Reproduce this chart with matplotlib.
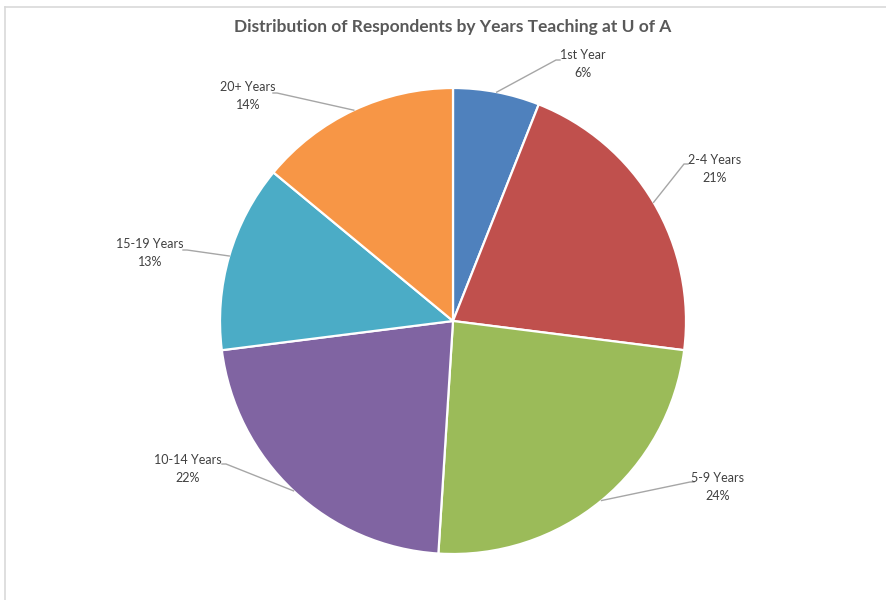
import matplotlib.pyplot as plt
import numpy as np

# survey breakdown, years teaching
labels = ['1st Year', '2-4 Years', '5-9 Years', '10-14 Years', '15-19 Years', '20+ Years']
pcts = [6, 21, 24, 22, 13, 14]
colors = ['#4F81BD', '#C0504D', '#9BBB59', '#8064A2', '#4BACC6', '#F79646']

W, H = 887, 600
cx, cy, R = 453, H - 321, 233

# label text centers and leader elbows (pixels from top-left)
text_pos = [(583, 64), (715, 169), (718, 487), (188, 469), (150, 253), (248, 96)]
elbows = [(556, 60), (684, 164), (690, 482), (226, 464), (187, 250), (277, 93)]

plt.rcParams['font.family'] = ['Lato', 'DejaVu Sans']

fig = plt.figure(figsize=(W / 100, H / 100), dpi=100)
ax = fig.add_axes([0, 0, 1, 1])

wedges, _ = ax.pie(pcts, colors=colors, startangle=90, counterclock=False,
                   radius=R, center=(cx, cy),
                   wedgeprops=dict(edgecolor='white', linewidth=1.6))
ax.set_xlim(0, W)
ax.set_ylim(0, H)
ax.set_aspect('equal')
ax.axis('off')

# chart frame (partly cut off at right and bottom)
ax.plot([5, 5], [0, H - 7], color='#D9D9D9', lw=1.2)
ax.plot([5, W], [H - 7, H - 7], color='#D9D9D9', lw=1.2)

ax.text(453, H - 27, 'Distribution of Respondents by Years Teaching at U of A',
        ha='center', va='center', fontsize=12.5, fontweight='bold', color='#595959')

for w, lab, p, tp, el in zip(wedges, labels, pcts, text_pos, elbows):
    mid = np.deg2rad((w.theta1 + w.theta2) / 2)
    x0, y0 = cx + R * np.cos(mid), cy + R * np.sin(mid)
    ex, ey = el[0], H - el[1]
    side = 1 if tp[0] > ex else -1
    ax.plot([x0, ex, ex + 4 * side], [y0, ey, ey], color='#A6A6A6', lw=1)
    ax.text(tp[0], H - tp[1], f'{lab}\n{p}%', ha='center', va='center',
            fontsize=9, color='#404040', linespacing=1.6)

fig.savefig('out.png', dpi=100)
